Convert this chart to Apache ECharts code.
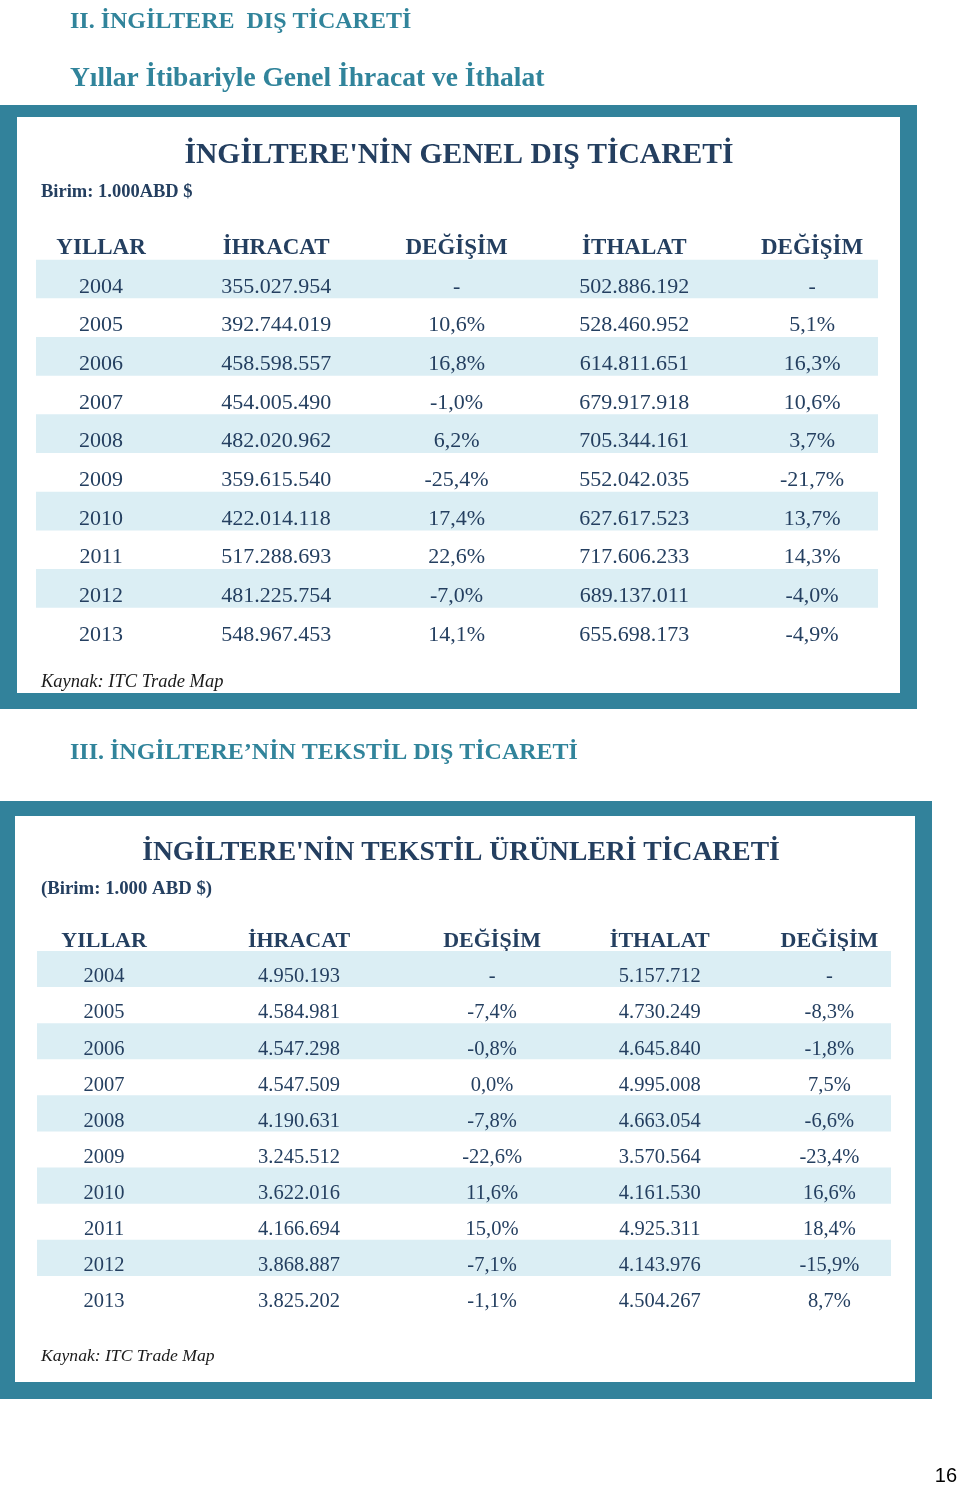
<!DOCTYPE html>
<html><head><meta charset="utf-8">
<script src="https://cdn.jsdelivr.net/npm/echarts@6/dist/echarts.min.js"></script>
<style>html,body{margin:0;padding:0;background:#fff}#c{width:960px;height:1485px}</style>
</head><body><div id="c"></div>
<script>
// ---------- DATA ----------
const years = [2004, 2005, 2006, 2007, 2008, 2009, 2010, 2011, 2012, 2013];
const headers = ['YILLAR', 'İHRACAT', 'DEĞİŞİM', 'İTHALAT', 'DEĞİŞİM'];

// Table 1: general foreign trade (1.000 ABD $)
const exports1 = [355027954, 392744019, 458598557, 454005490, 482020962, 359615540, 422014118, 517288693, 481225754, 548967453];
const exportChange1 = [null, 10.6, 16.8, -1.0, 6.2, -25.4, 17.4, 22.6, -7.0, 14.1];
const imports1 = [502886192, 528460952, 614811651, 679917918, 705344161, 552042035, 627617523, 717606233, 689137011, 655698173];
const importChange1 = [null, 5.1, 16.3, 10.6, 3.7, -21.7, 13.7, 14.3, -4.0, -4.9];

// Table 2: textile products trade (1.000 ABD $)
const exports2 = [4950193, 4584981, 4547298, 4547509, 4190631, 3245512, 3622016, 4166694, 3868887, 3825202];
const exportChange2 = [null, -7.4, -0.8, 0.0, -7.8, -22.6, 11.6, 15.0, -7.1, -1.1];
const imports2 = [5157712, 4730249, 4645840, 4995008, 4663054, 3570564, 4161530, 4925311, 4143976, 4504267];
const importChange2 = [null, -8.3, -1.8, 7.5, -6.6, -23.4, 16.6, 18.4, -15.9, 8.7];

// ---------- LAYOUT / STYLE ----------
const TEAL = '#32829B';
const NAVY = '#243F60';
const STRIPE = '#DBEEF4';
const HEAD_TEAL = '#31849B';
const colPos1 = [0, 0.985, 2, 3, 4];
const colPos2 = [0, 1, 1.99, 2.85, 3.72];

function fmtNum(n) { return String(n).replace(/\B(?=(\d{3})+(?!\d))/g, '.'); }
function fmtPct(v) { return v == null ? '-' : v.toFixed(1).replace('.', ',') + '%'; }

const tables = [
  { ex: exports1, exc: exportChange1, im: imports1, imc: importChange1, cols: colPos1, body: 22, head: 23, shift: -8 },
  { ex: exports2, exc: exportChange2, im: imports2, imc: importChange2, cols: colPos2, body: 20.5, head: 22, shift: -8 }
];

function rowCells(t, r) {
  return [String(years[r]), fmtNum(t.ex[r]), fmtPct(t.exc[r]), fmtNum(t.im[r]), fmtPct(t.imc[r])];
}

function makeRender(t) {
  return function (params, api) {
    const row = api.value(1);
    const cs = params.coordSys;
    const children = [];
    if (row >= 0 && row % 2 === 0) {
      const y0 = api.coord([0, row - 0.5])[1];
      const y1 = api.coord([0, row + 0.5])[1];
      children.push({ type: 'rect', shape: { x: cs.x, y: Math.min(y0, y1) + t.shift, width: cs.width, height: Math.abs(y1 - y0) }, style: { fill: STRIPE } });
    }
    const cells = row < 0 ? headers : rowCells(t, row);
    const font = row < 0 ? ('bold ' + t.head + 'px "Liberation Serif", serif') : (t.body + 'px "Liberation Serif", serif');
    for (let c = 0; c < cells.length; c++) {
      const p = api.coord([t.cols[c], row]);
      children.push({ type: 'text', x: p[0], y: p[1], style: { text: cells[c], font: font, fill: NAVY, align: 'center', verticalAlign: 'middle', textAlign: 'center', textVerticalAlign: 'middle' } });
    }
    return { type: 'group', children: children };
  };
}

const rowData = [-1, 0, 1, 2, 3, 4, 5, 6, 7, 8, 9].map(r => [0, r]);

function txt(text, x, y, font, fill, align) {
  return { type: 'text', x: x, y: y, silent: true, style: { text: text, font: font, fill: fill, align: align || 'left', verticalAlign: 'middle', textAlign: align || 'left', textVerticalAlign: 'middle' } };
}

const option = {
  backgroundColor: '#ffffff',
  animation: false,
  grid: [
    { left: 36, top: 229, width: 842, height: 425.4 },
    { left: 37, top: 922.8, width: 854, height: 397.2 }
  ],
  xAxis: [
    { type: 'value', gridIndex: 0, min: -0.366, max: 4.371, show: false },
    { type: 'value', gridIndex: 1, min: -0.344, max: 4.036, show: false }
  ],
  yAxis: [
    { type: 'value', gridIndex: 0, min: -1.5, max: 9.5, inverse: true, show: false },
    { type: 'value', gridIndex: 1, min: -1.5, max: 9.5, inverse: true, show: false }
  ],
  graphic: [
    // frames
    { type: 'rect', z: -10, shape: { x: 0, y: 105, width: 917, height: 604 }, style: { fill: TEAL } },
    { type: 'rect', z: -9, shape: { x: 17, y: 117, width: 883, height: 576 }, style: { fill: '#ffffff' } },
    { type: 'rect', z: -10, shape: { x: 0, y: 801, width: 932, height: 598 }, style: { fill: TEAL } },
    { type: 'rect', z: -9, shape: { x: 15, y: 816, width: 900, height: 566 }, style: { fill: '#ffffff' } },
    // section headings
    txt('II. İNGİLTERE  DIŞ TİCARETİ', 70, 22, 'bold 24px "Liberation Serif", serif', HEAD_TEAL),
    txt('Yıllar İtibariyle Genel İhracat ve İthalat', 70, 79, 'bold 27.5px "Liberation Serif", serif', HEAD_TEAL),
    txt('III. İNGİLTERE’NİN TEKSTİL DIŞ TİCARETİ', 70, 753, 'bold 24px "Liberation Serif", serif', HEAD_TEAL),
    // table 1 texts
    txt("İNGİLTERE'NİN GENEL DIŞ TİCARETİ", 459, 155, 'bold 29.6px "Liberation Serif", serif', NAVY, 'center'),
    txt('Birim: 1.000ABD $', 41, 192, 'bold 18.5px "Liberation Serif", serif', NAVY),
    txt('Kaynak: ITC Trade Map', 41, 682, 'italic 18.5px "Liberation Serif", serif', '#1a1a1a'),
    // table 2 texts
    txt("İNGİLTERE'NİN TEKSTİL ÜRÜNLERİ TİCARETİ", 461, 853, 'bold 27.6px "Liberation Serif", serif', NAVY, 'center'),
    txt('(Birim: 1.000 ABD $)', 41, 889, 'bold 18.8px "Liberation Serif", serif', NAVY),
    txt('Kaynak: ITC Trade Map', 41, 1356, 'italic 17.6px "Liberation Serif", serif', '#1a1a1a'),
    // page number
    txt('16', 957, 1476, '20px "Liberation Sans Narrow", "Liberation Sans", sans-serif', '#000000', 'right')
  ],
  series: [
    { type: 'custom', xAxisIndex: 0, yAxisIndex: 0, clip: false, silent: true, data: rowData, renderItem: makeRender(tables[0]) },
    { type: 'custom', xAxisIndex: 1, yAxisIndex: 1, clip: false, silent: true, data: rowData, renderItem: makeRender(tables[1]) }
  ]
};

const chart = echarts.init(document.getElementById('c'), null, { renderer: 'canvas' });
chart.setOption(option);
</script>
</body></html>
